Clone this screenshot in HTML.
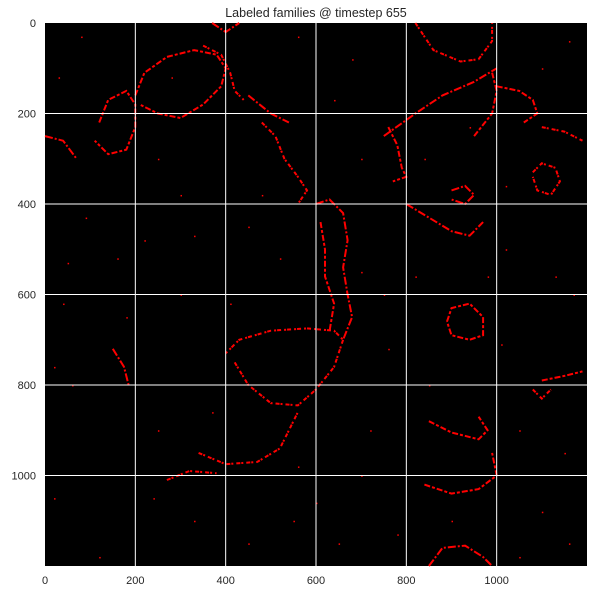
<!DOCTYPE html>
<html><head><meta charset="utf-8"><style>
body{margin:0;background:#fff;font-family:"Liberation Sans",sans-serif;}
svg text{font-family:"Liberation Sans",sans-serif;fill:#262626;}
</style></head><body>
<svg width="595" height="593">
<text x="316" y="17" font-size="12.5" text-anchor="middle">Labeled families @ timestep 655</text>
<rect x="45" y="23" width="542" height="543" fill="#000"/>
<g id="marks"></g>
<g id="grid"></g>
<g id="ticks"></g>
</svg>
<script>
const xTicks=[0,200,400,600,800,1000];
const yTicks=[0,200,400,600,800,1000];
// curves: polylines in data coordinates (pixel indices of the image)
const curves=[
 [[200,160],[220,110],[270,75],[330,60],[380,70],[400,100],[390,140],[350,180],[300,210],[250,200],[210,180]],
 [[350,50],[390,70],[410,110],[420,150],[440,170]],
 [[370,0],[400,20],[430,0]],
 [[120,220],[140,170],[180,150],[200,180],[200,230],[180,280],[140,290],[110,260]],
 [[820,0],[860,60],[920,85],[960,80],[990,40],[990,0]],
 [[750,250],[820,200],[880,160],[950,130],[1000,100]],
 [[950,250],[990,200],[1000,150],[990,110]],
 [[1080,330],[1100,310],[1130,320],[1140,350],[1120,380],[1090,370],[1080,340]],
 [[900,370],[930,360],[950,380],[930,400],[900,390]],
 [[890,660],[900,630],[940,620],[970,650],[970,690],[940,700],[900,690],[890,660]],
 [[420,750],[450,800],[500,840],[560,845],[600,810],[640,760],[660,700],[640,680],[580,675],[500,680],[430,700],[400,730]],
 [[600,400],[630,390],[660,420],[670,480],[660,540],[670,600],[680,650],[660,700]],
 [[610,440],[620,500],[620,560],[640,620],[630,680]],
 [[340,950],[400,975],[470,970],[520,940],[540,900],[560,860]],
 [[850,1200],[880,1160],[930,1155],[970,1180],[990,1200]],
 [[850,880],[900,905],[960,920],[980,900],[960,870]],
 [[1080,810],[1100,830],[1120,810]],
 [[800,400],[850,430],[900,460],[940,470],[970,440]],
 [[1000,140],[1050,150],[1080,170],[1090,200],[1060,220]],
 [[480,220],[510,250],[530,300],[560,340],[580,370],[560,400]],
 [[450,160],[500,200],[540,220]],
 [[760,230],[780,270],[790,320],[800,340],[770,350]],
 [[1100,230],[1150,240],[1190,260]],
 [[0,250],[40,260],[70,300]],
 [[1100,790],[1150,780],[1190,770]],
 [[270,1010],[320,990],[380,995]],
 [[150,720],[175,760],[185,800]],
 [[840,1020],[900,1040],[960,1030],[1000,1000],[990,950]]
];
const dots=[[80,30],[30,120],[90,430],[50,530],[160,520],[20,760],[60,800],[250,300],[300,380],[450,450],[520,520],[700,550],[750,600],[820,560],[1020,500],[1130,560],[1170,600],[1150,950],[1050,900],[720,900],[700,1000],[600,1060],[550,1100],[450,1150],[330,1100],[240,1050],[120,1180],[20,1050],[1100,1080],[1160,1150],[1050,1180],[780,1130],[650,1150],[370,860],[250,900],[850,800],[1010,710],[760,720],[700,300],[640,170],[560,30],[680,80],[1160,40],[1100,100],[40,620],[180,650],[300,600],[410,620],[840,300],[1020,360],[220,480],[480,380],[330,470],[980,560],[560,980],[900,1100],[280,120],[940,230]];
const X=v=>45+v*542/1200, Y=v=>23+v*543/1200;
const NS="http://www.w3.org/2000/svg";
const marks=document.getElementById('marks');
curves.forEach((c,i)=>{
 const p=document.createElementNS(NS,'polyline');
 p.setAttribute('points',c.map(q=>X(q[0]).toFixed(1)+','+Y(q[1]).toFixed(1)).join(' '));
 p.setAttribute('fill','none');p.setAttribute('stroke','#ff0000');p.setAttribute('stroke-width','2');
 p.setAttribute('stroke-dasharray',(i%3==0?'6 2 3 2':i%3==1?'4 1 2 3':'8 2 2 2'));
 
 
 marks.appendChild(p);
});
dots.forEach(d=>{
 const r=document.createElementNS(NS,'rect');
 r.setAttribute('x',X(d[0]));r.setAttribute('y',Y(d[1]));r.setAttribute('width',1.5);r.setAttribute('height',1.5);r.setAttribute('fill','#ff0000');
 
 
 marks.appendChild(r);
});
const grid=document.getElementById('grid'),ticks=document.getElementById('ticks');
xTicks.forEach(t=>{
 if(t>0){const l=document.createElementNS(NS,'line');l.setAttribute('x1',X(t));l.setAttribute('x2',X(t));l.setAttribute('y1',23);l.setAttribute('y2',566);l.setAttribute('stroke','#fff');l.setAttribute('stroke-width','1');
 
 
 grid.appendChild(l);}
 const tx=document.createElementNS(NS,'text');tx.setAttribute('x',X(t));tx.setAttribute('y',584);tx.setAttribute('font-size','11');tx.setAttribute('text-anchor','middle');tx.textContent=t;
 
 
 ticks.appendChild(tx);
});
yTicks.forEach(t=>{
 if(t>0){const l=document.createElementNS(NS,'line');l.setAttribute('y1',Y(t));l.setAttribute('y2',Y(t));l.setAttribute('x1',45);l.setAttribute('x2',587);l.setAttribute('stroke','#fff');l.setAttribute('stroke-width','1');
 
 
 grid.appendChild(l);}
 const tx=document.createElementNS(NS,'text');tx.setAttribute('x',36);tx.setAttribute('y',Y(t)+4);tx.setAttribute('font-size','11');tx.setAttribute('text-anchor','end');tx.textContent=t;
 
 
 ticks.appendChild(tx);
});
</script>
</body></html>
